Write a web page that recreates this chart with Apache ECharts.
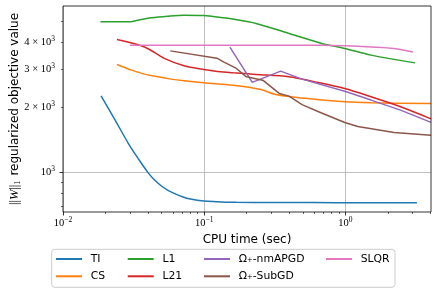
<!DOCTYPE html>
<html>
<head>
<meta charset="utf-8">
<script src="https://cdn.jsdelivr.net/npm/echarts@6/dist/echarts.min.js"></script>
<style>html,body{margin:0;padding:0;background:#fff}#c{width:436px;height:291px}</style>
</head>
<body>
<div id="c"></div>
<script>
// ---- data ----
var xMajorTicks = [0.01, 0.1, 1];
var xMinorTicks = [0.02,0.03,0.04,0.05,0.06,0.07,0.08,0.09,0.2,0.3,0.4,0.5,0.6,0.7,0.8,0.9,2,3,4];
var yMajorTicks = [1000];
var yMinorTicks = [700,800,900,2000,3000,4000,5000];
var yMinorLabels = [2000,3000,4000];

var tiX = [0.0186,0.0234,0.029,0.034,0.0399,0.0445,0.0495,0.055,0.0613,0.07,0.080,0.0992,0.123,0.169,0.3,0.6,1.2,2.0,3.21];
var tiY = [2262,1747,1363,1161,1000,921,867,828,799,771,752,736,731,726,725,724,723,723,723];

var csX = [0.0241,0.0306,0.0378,0.0469,0.058,0.072,0.0992,0.16,0.253,0.321,0.52,0.989,1.52,4.04];
var csY = [3162,2976,2852,2771,2704,2655,2600,2535,2421,2296,2202,2123,2100,2086];

var l1X = [0.0184,0.029,0.034,0.0422,0.055,0.072,0.0992,0.137,0.16,0.233,0.399,0.681,0.989,1.52,3.12];
var l1Y = [4981,4981,5070,5200,5292,5346,5330,5200,5130,4897,4403,3957,3752,3493,3216];

var l21X = [0.0241,0.0378,0.0522,0.072,0.0992,0.137,0.16,0.233,0.399,0.611,0.989,1.52,2.46,4.04];
var l21Y = [4126,3811,3374,3118,3000,2918,2893,2843,2773,2626,2446,2240,2013,1770];

var apX = [0.152,0.219,0.348,0.493,0.989,1.52,2.46,4.04];
var apY = [3802,2612,2944,2704,2376,2162,1943,1705];

var sgX = [0.0575,0.123,0.137,0.169,0.199,0.26,0.34,0.399,0.493,0.646,0.989,1.225,2.21,4.04];
var sgY = [3655,3381,3250,3030,2771,2673,2321,2255,2060,1909,1702,1630,1531,1484];

var slX = [0.0298,0.1,0.681,1.0,1.52,2.21,3.01];
var slY = [3882,3882,3882,3860,3811,3750,3614];

var names = ['TI','CS','L1','L21','\u03A9\u208A-nmAPGD','\u03A9\u208A-SubGD','SLQR'];
var colors = ['#1f77b4','#ff7f0e','#2ca02c','#d62728','#9467bd','#8c564b','#e377c2'];
var xs = [tiX, csX, l1X, l21X, apX, sgX, slX];
var ys = [tiY, csY, l1Y, l21Y, apY, sgY, slY];
var smoothness = [0.35, 0.35, 0.35, 0.3, 0, 0, 0.3];

function zip(a, b) { return a.map(function (v, i) { return [v, b[i]]; }); }

var serifFont = 'Liberation Serif';
var labelRich = {
  b: { fontFamily: serifFont, fontSize: 10.5, color: '#000' },
  s: { fontFamily: serifFont, fontSize: 7.5, color: '#000', padding: [0, 0, 7, 0] }
};
function pow10Label(v) {
  var e = Math.round(Math.log10(v));
  return '{b|10}{s|' + (e < 0 ? '\u2212' + (-e) : e) + '}';
}
function mantLabel(v) {
  var e = Math.floor(Math.log10(v) + 1e-9);
  var m = Math.round(v / Math.pow(10, e));
  return '{b|' + m + ' \u00D7 10}{s|' + e + '}';
}

var XMIN = 0.01, XMAX = 4.04, YMIN = 655, YMAX = 5900;

var series = names.map(function (n, i) {
  return {
    name: n, type: 'line', data: zip(xs[i], ys[i]),
    xAxisIndex: 0, yAxisIndex: 0,
    showSymbol: false, symbol: 'none', smooth: smoothness[i] || false, clip: true,
    lineStyle: { width: 1.5, color: colors[i] }, itemStyle: { color: colors[i] },
    emphasis: { disabled: true }, z: 3
  };
});

var legendCols = [[0,1],[2,3],[4,5],[6]];
var legendLeft = [56, 127.7, 204, 326];
var legends = legendCols.map(function (col, k) {
  return {
    orient: 'vertical', left: legendLeft[k], top: 253, padding: 0,
    itemGap: 5.3, itemWidth: 26, itemHeight: 2, icon: 'rect',
    selectedMode: false, z: 5,
    data: col.map(function (i) { return names[i]; }),
    textStyle: { fontFamily: 'DejaVu Sans', fontSize: 10.8, color: '#000', lineHeight: 12, padding: [0, 0, 0, 3.7] }
  };
});

var chart = echarts.init(document.getElementById('c'), null, { renderer: 'canvas' });
chart.setOption({
  animation: false,
  backgroundColor: '#fff',
  textStyle: { fontFamily: 'DejaVu Sans' },
  grid: { left: 57, right: 5, top: 6, bottom: 79, show: true, borderColor: '#000', borderWidth: 0.8, backgroundColor: 'transparent', z: 4 },
  graphic: [{
    type: 'rect', z: 1,
    shape: { x: 51.7, y: 249.3, width: 343.3, height: 38, r: 3 },
    style: { fill: '#fff', stroke: '#cccccc', lineWidth: 1 }
  }],
  legend: legends,
  xAxis: [{
    type: 'log', logBase: 10, min: XMIN, max: XMAX, position: 'bottom',
    axisLine: { show: false },
    axisTick: { show: true, length: 3.5, customValues: xMajorTicks, lineStyle: { color: '#000', width: 0.8 } },
    axisLabel: { show: true, customValues: xMajorTicks, formatter: pow10Label, rich: labelRich, margin: 4, color: '#000' },
    splitLine: { show: true, lineStyle: { color: '#b0b0b0', width: 0.8 } },
    minorTick: { show: false }, minorSplitLine: { show: false },
    name: 'CPU time (sec)', nameLocation: 'middle', nameGap: 19,
    nameTextStyle: { fontFamily: 'DejaVu Sans', fontSize: 12, color: '#000' }
  }, {
    type: 'log', logBase: 10, min: XMIN, max: XMAX, position: 'bottom',
    axisLine: { show: false },
    axisTick: { show: true, length: 2, customValues: xMinorTicks, lineStyle: { color: '#000', width: 0.6 } },
    axisLabel: { show: false },
    splitLine: { show: false }
  }],
  yAxis: [{
    type: 'log', logBase: 10, min: YMIN, max: YMAX, position: 'left',
    axisLine: { show: false },
    axisTick: { show: true, length: 3.5, customValues: yMajorTicks, lineStyle: { color: '#000', width: 0.8 } },
    axisLabel: { show: true, customValues: yMajorTicks, formatter: pow10Label, rich: labelRich, margin: 8, color: '#000' },
    splitLine: { show: true, lineStyle: { color: '#b0b0b0', width: 0.8 } },
    name: '{n|||}{w|W}{n|||}{sub|1}{t| regularized objective value}',
    nameLocation: 'middle', nameRotate: 90, nameGap: 41,
    nameTextStyle: {
      color: '#000',
      rich: {
        n: { fontFamily: serifFont, fontSize: 12.5, color: '#000' },
        w: { fontFamily: serifFont, fontStyle: 'italic', fontSize: 12.5, color: '#000' },
        sub: { fontFamily: serifFont, fontSize: 8.5, color: '#000', padding: [6, 1, 0, 0] },
        t: { fontFamily: 'DejaVu Sans', fontSize: 12, color: '#000' }
      }
    }
  }, {
    type: 'log', logBase: 10, min: YMIN, max: YMAX, position: 'left',
    axisLine: { show: false },
    axisTick: { show: true, length: 2, customValues: yMinorTicks, lineStyle: { color: '#000', width: 0.6 } },
    axisLabel: { show: true, customValues: yMinorLabels, formatter: mantLabel, rich: labelRich, margin: 8, color: '#000' },
    splitLine: { show: false }
  }],
  series: series
});
</script>
</body>
</html>
